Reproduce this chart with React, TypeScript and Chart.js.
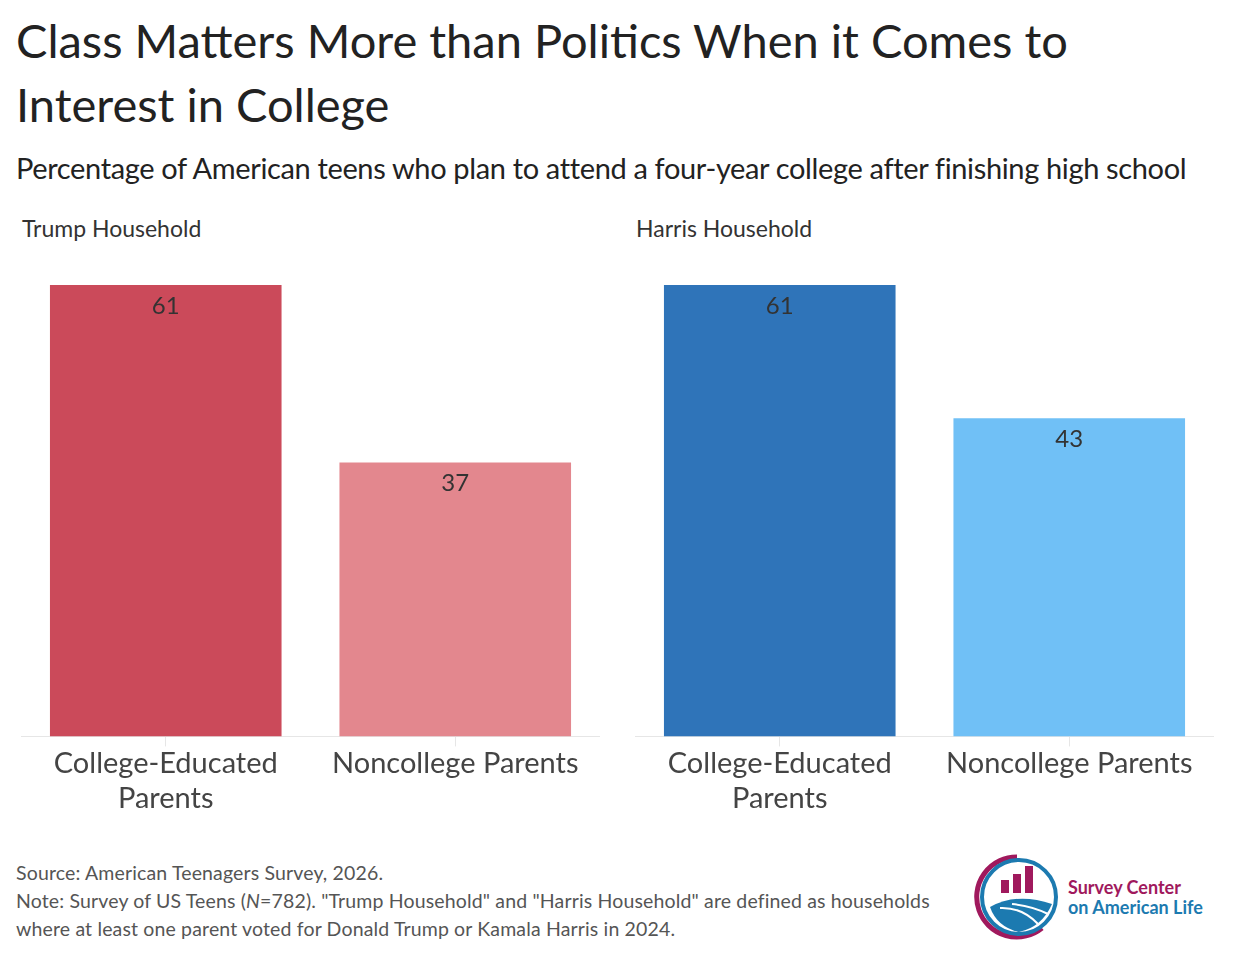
import React, { useEffect, useRef } from "react";
import { Chart, registerables } from "chart.js";
Chart.register(...registerables);

const categories = [["College-Educated", "Parents"], "Noncollege Parents"];
const trumpValues = [61, 37];
const harrisValues = [61, 43];
const trumpColors = ["#cb4a5a", "#e3878e"];
const harrisColors = ["#2f74b9", "#70c0f6"];
const FONT = "Lato, 'Open Sans', sans-serif";

const labelPlugin = {
  id: "vlabels",
  afterDatasetsDraw(chart: any) {
    const ctx = chart.ctx;
    const meta = chart.getDatasetMeta(0);
    ctx.save();
    ctx.font = `24px ${FONT}`;
    ctx.fillStyle = "#333";
    ctx.textAlign = "center";
    ctx.textBaseline = "middle";
    meta.data.forEach((el: any, i: number) => {
      ctx.fillText(String(chart.data.datasets[0].data[i]), el.x, el.y + 21);
    });
    ctx.restore();
  },
};

function Panel({ values, colors, left }: { values: number[]; colors: string[]; left: number }) {
  const ref = useRef<HTMLCanvasElement>(null);
  useEffect(() => {
    const c = new Chart(ref.current!, {
      type: "bar",
      data: {
        labels: categories as any,
        datasets: [{ data: values, backgroundColor: colors, barPercentage: 0.8, categoryPercentage: 1 }],
      },
      options: {
        animation: false,
        responsive: false,
        layout: { padding: { top: 0, left: 0, right: 0, bottom: 9 } },
        plugins: { legend: { display: false }, tooltip: { enabled: false } },
        scales: {
          y: { display: false, min: 0, max: 61 },
          x: {
            border: { color: "#e6e6e6", width: 1 },
            grid: { drawOnChartArea: false, offset: false, color: "#e6e6e6", tickLength: 10 },
            ticks: { color: "#444", font: { size: 29, family: FONT }, padding: 0, maxRotation: 0, autoSkip: false },
          },
        },
      },
      plugins: [labelPlugin],
    });
    return () => c.destroy();
  }, []);
  return <canvas ref={ref} width={579} height={540} style={{ position: "absolute", left, top: 285 }} />;
}

export default function App() {
  const t: React.CSSProperties = { position: "absolute", fontFamily: FONT, color: "#222", whiteSpace: "nowrap" };
  return (
    <div style={{ position: "relative", width: 1233, height: 966, margin: -8, background: "#fff", overflow: "hidden" }}>
      <div style={{ ...t, left: 16, top: 8, fontSize: 47, lineHeight: "64px", letterSpacing: 0 }}>
        Class Matters More than Politics When it Comes to<br />Interest in College
      </div>
      <div style={{ ...t, left: 16, top: 150, fontSize: 29, letterSpacing: -0.35 }}>
        Percentage of American teens who plan to attend a four-year college after finishing high school
      </div>
      <div style={{ ...t, left: 22, top: 214, fontSize: 23, color: "#333" }}>Trump Household</div>
      <div style={{ ...t, left: 636, top: 214, fontSize: 23, color: "#333" }}>Harris Household</div>
      <Panel values={trumpValues} colors={trumpColors} left={21} />
      <Panel values={harrisValues} colors={harrisColors} left={635} />
      <div style={{ ...t, left: 16, top: 859, fontSize: 19.5, lineHeight: "28px", color: "#555", letterSpacing: 0.15 }}>
        Source: American Teenagers Survey, 2026.<br />
        Note: Survey of US Teens (<i>N</i>=782). "Trump Household" and "Harris Household" are defined as households<br />
        where at least one parent voted for Donald Trump or Kamala Harris in 2024.
      </div>
      <svg style={{ position: "absolute", left: 972, top: 852 }} width={90} height={90} viewBox="0 0 90 90">
        <path d="M45 5 A40 40 0 1 0 70 76" fill="none" stroke="#a0195d" strokeWidth="5" />
        <circle cx="47" cy="45" r="37" fill="none" stroke="#1c7ab0" strokeWidth="4" />
        <rect x="29" y="28" width="8" height="13" fill="#a0195d" />
        <rect x="41" y="22" width="8" height="19" fill="#a0195d" />
        <rect x="53" y="14" width="8" height="27" fill="#a0195d" />
        <path d="M18 55 Q45 40 80 52 Q70 75 47 80 Q25 75 18 55Z" fill="#1c7ab0" />
        <path d="M28 56 Q50 55 66 72 M40 52 Q60 54 76 62" stroke="#fff" strokeWidth="2" fill="none" />
      </svg>
      <div style={{ ...t, left: 1068, top: 877, fontSize: 18, fontWeight: 700, lineHeight: "20px" }}>
        <span style={{ color: "#a0195d" }}>Survey Center</span><br />
        <span style={{ color: "#1c7ab0" }}>on American Life</span>
      </div>
    </div>
  );
}
